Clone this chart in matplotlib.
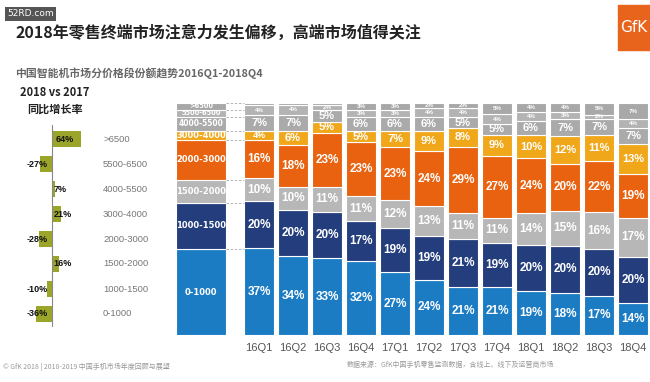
import numpy as np
import matplotlib
matplotlib.use("Agg")
import matplotlib.pyplot as plt
from matplotlib.patches import Rectangle

plt.rcParams['font.family'] = ['Noto Sans CJK SC', 'DejaVu Sans']

# ---------------------------------------------------------#
# Data                                                     #
# ---------------------------------------------------------#
quarters = ['16Q1', '16Q2', '16Q3', '16Q4', '17Q1', '17Q2',
            '17Q3', '17Q4', '18Q1', '18Q2', '18Q3', '18Q4']
segments = ['0-1000', '1000-1500', '1500-2000', '2000-3000',
            '3000-4000', '4000-5500', '5500-6500', '>6500']

share_0_1000    = [37, 34, 33, 32, 27, 24, 21, 21, 19, 18, 17, 14]
share_1000_1500 = [20, 20, 20, 17, 19, 19, 21, 19, 20, 20, 20, 20]
share_1500_2000 = [10, 10, 11, 11, 12, 13, 11, 11, 14, 15, 16, 17]
share_2000_3000 = [16, 18, 23, 23, 23, 24, 29, 27, 24, 20, 22, 19]
share_3000_4000 = [4, 6, 5, 5, 7, 9, 8, 9, 10, 12, 11, 13]
share_4000_5500 = [7, 7, 5, 6, 6, 6, 5, 5, 6, 7, 7, 7]
share_5500_6500 = [4, 4, 2, 3, 3, 4, 4, 4, 4, 3, 2, 4]
share_above6500 = [1, 1, 1, 3, 3, 2, 2, 5, 4, 4, 5, 7]

# key column on the left of the bars
legend_share = [37, 20, 10, 17, 4, 6, 3, 3]

# 2018 vs 2017 growth, same order as segments
growth = [-36, -10, 16, -28, 21, 7, -27, 64]

colors = ['#1b7cc4', '#233d7d', '#b7b7b7', '#e8620f',
          '#f0a81a', '#aaaaaa', '#b3b3b3', '#a8a8a8']
olive = '#9aa52a'

shares = np.array([share_0_1000, share_1000_1500, share_1500_2000,
                   share_2000_3000, share_3000_4000, share_4000_5500,
                   share_5500_6500, share_above6500], dtype=float)
heights = shares / shares.sum(axis=0) * 100   # every column drawn to 100

# ---------------------------------------------------------#
# Figure                                                   #
# ---------------------------------------------------------#
W, H = 650, 382
fig = plt.figure(figsize=(W / 100, H / 100), dpi=100)
fig.patch.set_facecolor('white')

def fx(px):
    return px / W

def fy(py):
    return 1 - py / H

# ---- main stacked bars ----
ax = fig.add_axes([fx(170), fy(335), fx(480), 232 / H])
ax.set_xlim(-2.618, 11.5)
ax.set_ylim(0, 100)
for s in ax.spines.values():
    s.set_visible(False)
ax.tick_params(length=0)
ax.set_yticks([])
x = np.arange(len(quarters))
ax.set_xticks(x)
ax.set_xticklabels(quarters, fontsize=8, color='#555555',
                   family='Liberation Sans')
ax.tick_params(axis='x', pad=6)

bw = 0.88
bottom = np.zeros(len(quarters))
for k in range(len(segments)):
    ax.bar(x, heights[k], bw, bottom=bottom, color=colors[k],
           edgecolor='white', linewidth=0.8)
    for i in range(len(quarters)):
        v = int(shares[k, i])
        yc = bottom[i] + heights[k, i] / 2
        if v < 2:
            bottom_skip = True
            continue
        if k >= 6:
            fs = 4.5
        elif k == 5 or k == 4:
            fs = 8 if v >= 5 else 6.5
        else:
            fs = 8.5
        ax.text(x[i], yc, f'{v}%', ha='center', va='center', color='white',
                fontsize=fs, fontweight='bold', family='Liberation Sans')
    bottom += heights[k]

# key column
lx, lw = -1.706, 1.47
lb = 0
for k in range(len(segments)):
    ax.bar(lx, legend_share[k], lw, bottom=lb, color=colors[k],
           edgecolor='white', linewidth=0.8)
    fs = 4.8 if k >= 5 else 6
    if k == 5:
        fs = 5.5
    ax.text(lx, lb + legend_share[k] / 2, segments[k], ha='center',
            va='center', color='white', fontsize=fs, fontweight='bold',
            family='DejaVu Sans')
    lb += legend_share[k]
    # dashed guide to the first column
    ax.plot([lx + lw / 2, -bw / 2], [lb, lb], ls=(0, (3, 2)),
            color='#aaaaaa', lw=0.6)

# ---- growth panel ----
gx = fig.add_axes([fx(20), fy(327), fx(80), 202 / H])
gx.set_xlim(-70.6, 106)
gx.set_ylim(-0.52, 7.56)
gx.axis('off')
rows = np.arange(len(segments))
gx.barh(rows, growth, height=0.62, color=olive)
gx.axvline(0, color='#888888', lw=0.8)
for r, g in zip(rows, growth):
    if g > 0:
        gx.text(9 if g > 30 else 4, r, f'{g}%', ha='left', va='center',
                fontsize=6.5, fontweight='bold', color='#111111',
                family='Liberation Sans')
    else:
        gx.text(-9, r, f'{g}%', ha='right', va='center', fontsize=6.5,
                fontweight='bold', color='#111111', family='Liberation Sans')
    gx.text(1.0375, r, segments[r], transform=gx.get_yaxis_transform(),
            ha='left', va='center', fontsize=6.8, color='#777777',
            family='Liberation Sans')

# ---- texts ----
fig.text(fx(15), fy(33), '2018年零售终端市场注意力发生偏移，高端市场值得关注',
         fontsize=11.5, fontweight='bold', color='#222222', va='center')
fig.text(fx(15), fy(73), '中国智能机市场分价格段份额趋势2016Q1-2018Q4',
         fontsize=7.8, fontweight='bold', color='#666666', va='center')
fig.text(fx(55), fy(93), '2018 vs 2017', fontsize=8, fontweight='bold',
         color='#222222', ha='center', va='center')
fig.text(fx(55), fy(109), '同比增长率', fontsize=8, fontweight='bold',
         color='#222222', ha='center', va='center')

fig.text(fx(3), fy(367), '© GfK 2018 | 2018-2019 中国手机市场年度回顾与展望',
         fontsize=5, color='#999999', va='center')
fig.text(fx(347), fy(365), '数据来源：GfK中国手机零售监测数据，含线上、线下及运营商市场',
         fontsize=5, color='#999999', va='center')

# watermark and logo
fig.text(fx(7), fy(14), '52RD.com', fontsize=6.5, color='white',
         va='center', family='DejaVu Sans',
         bbox=dict(boxstyle='square,pad=0.25', fc='#555555', ec='none'))
fig.patches.append(Rectangle((fx(618), fy(50)), fx(32), 45 / H,
                             transform=fig.transFigure, color='#e8641c'))
fig.text(fx(634), fy(28), 'GfK', fontsize=11, color='white', ha='center',
         va='center', family='DejaVu Sans')

fig.savefig('out.png', dpi=100)
